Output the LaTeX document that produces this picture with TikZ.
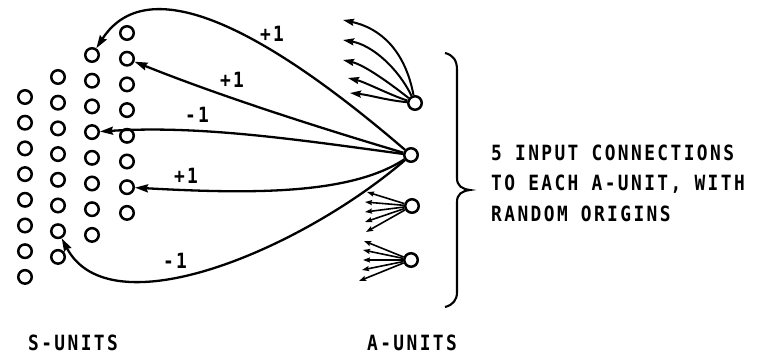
\documentclass[tikz,border=0pt]{standalone}
\usepackage{fontspec}
\newfontfamily\lettering[FakeStretch=0.85,LetterSpace=11.5]{DejaVu Sans Mono}
\usetikzlibrary{arrows.meta}
\begin{document}
\begin{tikzpicture}[x=1pt,y=-1pt,
  unit/.style={circle,draw,line width=2.5pt,minimum size=13.5pt,inner sep=0pt},
  conn/.style={line width=2.3pt,-{Stealth[length=13pt,width=8pt,inset=1.5pt]}},
  fan/.style={line width=2pt,-{Stealth[length=11pt,width=7pt,inset=1.5pt]}},
  sfan/.style={line width=1.6pt,-{Stealth[length=7pt,width=5pt,inset=1pt]}},
  lab/.style={font=\lettering\bfseries\fontsize{21}{30.5}\selectfont,inner sep=0pt}]
\useasboundingbox (0,0) rectangle (766,358);
% S-units
\foreach \c/\x/\y in {1/25/97,2/58/77,3/92/55,4/127/33}
  \foreach \r in {1,...,8}
    \node[unit] (s\c\r) at ({\x},{\y+25.7*(\r-1)}) {};
% A-units
\node[unit] (a1) at (415,103) {};
\node[unit] (a2) at (411,155) {};
\node[unit] (a3) at (412,206) {};
\node[unit] (a4) at (411,260) {};
% main connections from a2
\draw[conn] (a2) .. controls (275,38) and (150,-35) .. (s31);
\draw[conn] (a2) .. controls (320,128) and (220,96) .. (s42);
\draw[conn] (a2) .. controls (300,140) and (200,125) .. (s34);
\draw[conn] (a2) .. controls (350,195) and (250,194) .. (s47);
\draw[conn] (a2) .. controls (300,250) and (110,330) .. (s27);
% weight labels
\node[lab] (w1) at (272,34) {+1};
\node[lab] (w2) at (232,80) {+1};
\node[lab] (w3) at (197,115) {-1};
\node[lab] (w4) at (186,176) {+1};
\node[lab] (w5) at (175,261) {-1};
% fan at a1
\coordinate (f11) at (343,20);
\coordinate (f12) at (343,40);
\coordinate (f13) at (343,60);
\coordinate (f14) at (348,78);
\coordinate (f15) at (350,93);
\draw[fan] (a1) .. controls (405,50) and (380,28) .. (f11);
\draw[fan] (a1) .. controls (398,68) and (372,45) .. (f12);
\draw[fan] (a1) .. controls (392,85) and (365,65) .. (f13);
\draw[fan] (a1) .. controls (390,95) and (365,82) .. (f14);
\draw[fan] (a1) .. controls (385,100) and (370,95) .. (f15);
% fan at a3
\foreach \i/\x/\y in {1/367/192,2/365/202,3/365/212,4/365/222,5/366/232}
  {\coordinate (f3\i) at (\x,\y); \draw[sfan] (a3) -- (f3\i);}
% fan at a4
\foreach \i/\x/\y in {1/364/241,2/363/250,3/363/260,4/362/270,5/359/281}
  {\coordinate (f4\i) at (\x,\y); \draw[sfan] (a4) -- (f4\i);}
% brace
\draw[line width=2.1pt] (445,53) .. controls (453,55) and (457,60) .. (457,70)
  -- (457,178) .. controls (457,186) and (462,189) .. (470,190)
  .. controls (462,191) and (457,194) .. (457,202)
  -- (457,292) .. controls (457,300) and (453,305) .. (445,307);
% texts
\node[lab,align=left,anchor=west] (note) at (491,183) {5 INPUT CONNECTIONS\\TO EACH A-UNIT, WITH\\RANDOM ORIGINS};
\node[lab] (sl) at (73,343) {S-UNITS};
\node[lab] (al) at (412,343) {A-UNITS};
\end{tikzpicture}
\end{document}
